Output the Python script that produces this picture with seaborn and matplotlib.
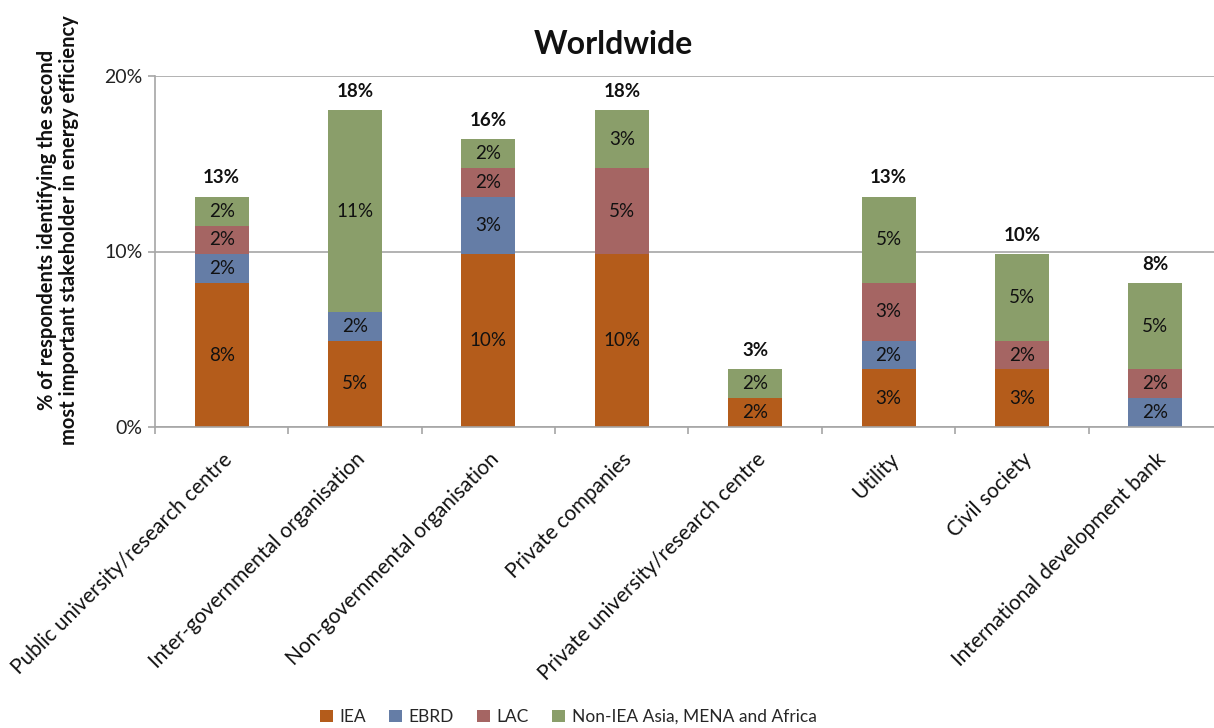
import matplotlib
matplotlib.use("Agg")
import matplotlib.pyplot as plt
import numpy as np
import pandas as pd
import seaborn as sns

categories = [
    "Public university/research centre",
    "Inter-governmental organisation",
    "Non-governmental organisation",
    "Private companies",
    "Private university/research centre",
    "Utility",
    "Civil society",
    "International development bank",
]
series_names = ["IEA", "EBRD", "LAC", "Non-IEA Asia, MENA and Africa"]
iea = [8.20, 4.92, 9.84, 9.84, 1.64, 3.28, 3.28, 0.00]
ebrd = [1.64, 1.64, 3.28, 0.00, 0.00, 1.64, 0.00, 1.64]
lac = [1.64, 0.00, 1.64, 4.92, 0.00, 3.28, 1.64, 1.64]
non_iea = [1.64, 11.48, 1.64, 3.28, 1.64, 4.92, 4.92, 4.92]
y_ticks = [0, 10, 20]

colors = ["#B45C1B", "#657DA6", "#A56563", "#8A9E6A"]

sns.set_theme(style="white")
plt.rcParams["font.family"] = ["Lato", "DejaVu Sans"]

fig = plt.figure(figsize=(12.14, 7.28), dpi=100)
W, H = 1214, 728
left, right, top, bottom = 155, 1222, 76, 427
ax = fig.add_axes([left / W, 1 - bottom / H, (right - left) / W, (bottom - top) / H])

df = pd.DataFrame({"category": categories, "IEA": iea, "EBRD": ebrd,
                   "LAC": lac, "Non-IEA Asia, MENA and Africa": non_iea})

# horizontal gridlines behind the bars
for t in y_ticks:
    ax.axhline(t, color="#A6A6A6", lw=1.2, zorder=0)

base = np.zeros(len(categories))
for name, col in zip(series_names, colors):
    vals = df[name].to_numpy()
    sns.barplot(data=df, x="category", y=name, bottom=base, color=col,
                width=0.405, label=name, ax=ax, saturation=1,
                edgecolor="none", linewidth=0, zorder=2)
    for i, v in enumerate(vals):
        if v > 0:
            ax.text(i, base[i] + v / 2, f"{round(v):d}%", ha="center",
                    va="center", fontsize=13.5, color="#111111", zorder=3)
    base = base + vals

for i, tot in enumerate(base):
    ax.text(i, tot + 0.6, f"{round(tot):d}%", ha="center", va="bottom",
            fontsize=13.5, fontweight="bold", color="#111111")

ax.set_ylim(0, 20)
ax.set_xlim(-0.5, len(categories) - 0.5)
ax.set_yticks(y_ticks)
ax.set_yticklabels([f"{t}%" for t in y_ticks], fontsize=14, color="#222222")
ax.set_xticks(np.arange(len(categories) + 1) - 0.5, minor=True)
ax.set_xticks(np.arange(len(categories)))
ax.set_xticklabels(categories, rotation=45, ha="right", rotation_mode="anchor",
                   fontsize=15, color="#111111")
ax.tick_params(axis="x", which="major", length=0, pad=16)
ax.tick_params(axis="x", which="minor", length=5, width=1.2, color="#A6A6A6",
               direction="out", bottom=True)
ax.tick_params(axis="y", length=5, width=1.2, color="#A6A6A6", left=True,
               direction="out", pad=4)
ax.set_xlabel("")
ax.set_ylabel("")
for s in ["top", "right"]:
    ax.spines[s].set_visible(False)
for s in ["left", "bottom"]:
    ax.spines[s].set_color("#A6A6A6")
    ax.spines[s].set_linewidth(1.2)
if ax.get_legend() is not None:
    ax.get_legend().remove()

fig.text(613 / W, 1 - 45 / H, "Worldwide", ha="center", va="center",
         fontsize=23, fontweight="bold", color="#111111")
fig.text(58 / W, 1 - 230 / H,
         "% of respondents identifying the second\nmost important stakeholder in energy efficiency",
         rotation=90, ha="center", va="center", fontsize=14.5,
         fontweight="bold", color="#111111", linespacing=1.1)

handles, labels = ax.get_legend_handles_labels()
fig.legend(handles, labels, loc="center", bbox_to_anchor=(568 / W, 1 - 717 / H),
           ncol=4, frameon=False, fontsize=12.5, handlelength=0.75,
           handleheight=0.75, handletextpad=0.4, columnspacing=1.3)

fig.savefig("out.png", dpi=100)
